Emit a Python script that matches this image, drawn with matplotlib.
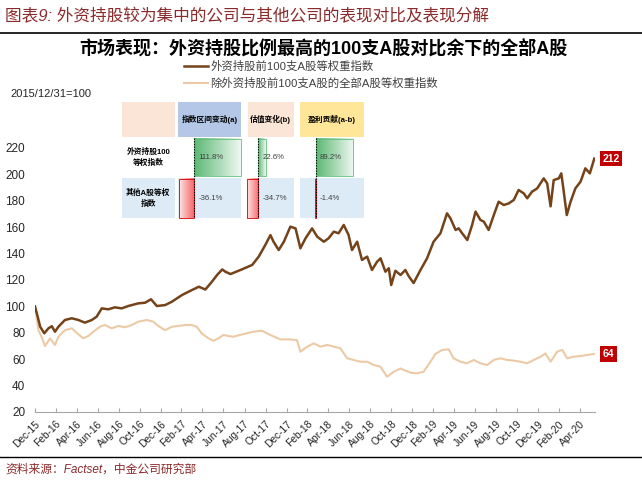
import matplotlib
matplotlib.use("Agg")
import matplotlib.pyplot as plt
from matplotlib.patches import Rectangle
from matplotlib.colors import to_rgb
import numpy as np
import pandas as pd

plt.rcParams['font.family'] = ['Liberation Sans', 'Noto Sans CJK SC', 'DejaVu Sans']

# 外资持股前100支A股等权重指数 (2015/12/31=100)
top100_dates = [
    "2015-12-31", "2016-01-08", "2016-01-15", "2016-01-27", "2016-02-08", "2016-02-18",
    "2016-02-27", "2016-03-08", "2016-03-27", "2016-04-16", "2016-05-05", "2016-05-24",
    "2016-06-13", "2016-06-27", "2016-07-12", "2016-07-31", "2016-08-19", "2016-09-08",
    "2016-09-27", "2016-10-26", "2016-11-15", "2016-12-02", "2016-12-19", "2017-01-12",
    "2017-02-01", "2017-03-02", "2017-03-31", "2017-04-20", "2017-05-09", "2017-05-28",
    "2017-06-12", "2017-06-27", "2017-07-06", "2017-07-21", "2017-08-19", "2017-09-22",
    "2017-10-11", "2017-10-30", "2017-11-14", "2017-11-23", "2017-12-08", "2017-12-23",
    "2018-01-11", "2018-01-26", "2018-02-09", "2018-02-24", "2018-03-15", "2018-03-30",
    "2018-04-18", "2018-05-02", "2018-05-17", "2018-05-31", "2018-06-15", "2018-06-29",
    "2018-07-09", "2018-07-24", "2018-08-07", "2018-08-22", "2018-09-05", "2018-09-20",
    "2018-09-30", "2018-10-14", "2018-10-24", "2018-10-31", "2018-11-12", "2018-11-27",
    "2018-12-11", "2018-12-21", "2019-01-04", "2019-01-24", "2019-02-12", "2019-03-03",
    "2019-03-23", "2019-04-11", "2019-04-21", "2019-05-06", "2019-05-15", "2019-05-25",
    "2019-06-09", "2019-06-23", "2019-07-03", "2019-07-17", "2019-07-27", "2019-08-10",
    "2019-08-25", "2019-09-08", "2019-09-23", "2019-10-07", "2019-10-22", "2019-11-05",
    "2019-11-20", "2019-11-30", "2019-12-14", "2019-12-29", "2020-01-17", "2020-01-27",
    "2020-02-06", "2020-02-15", "2020-03-01", "2020-03-08", "2020-03-14", "2020-03-24",
    "2020-04-04", "2020-04-18", "2020-05-03", "2020-05-17", "2020-05-30", "2020-06-12",
]
top100_vals = [
    100, 92, 84.6, 79.6, 83.4, 85,
    80.8, 84.6, 89.7, 91, 89.7, 87.7,
    89.7, 92.2, 98.5, 97.8, 99.3, 98.5,
    100.3, 102.3, 102.8, 105.4, 100.3, 101,
    103.6, 108.6, 112.4, 114.9, 112.8, 118.7,
    123.8, 128, 126.3, 124.5, 127.6, 131.4,
    137.7, 146.5, 154, 149, 142.7, 149,
    160.4, 159.1, 144, 151.6, 159.1, 152.8,
    149, 151.6, 156.6, 155.4, 161.7, 154.1,
    142.7, 149, 135.2, 137.7, 127.6, 133.9,
    136.4, 126.3, 128.9, 116.2, 127, 123.8,
    127.6, 122.8, 117.7, 127.6, 136.4, 149,
    155.4, 170.5, 166.7, 157.9, 159.1, 155.4,
    150.3, 161.7, 171.8, 165.5, 164.2, 157.9,
    169.2, 179.3, 176.8, 178, 180.6, 188.2,
    185.6, 181.9, 186.9, 189.4, 197, 193.2,
    175.8, 195.7, 197, 200.8, 189.4, 169.2,
    179.3, 189.4, 194.5, 204.6, 200.8, 212,
]

# 除外资持股前100支A股的全部A股等权重指数
rest_dates = [
    "2015-12-31", "2016-01-10", "2016-01-19", "2016-01-29", "2016-02-13", "2016-02-27",
    "2016-03-08", "2016-03-27", "2016-04-16", "2016-04-30", "2016-05-19", "2016-06-03",
    "2016-06-17", "2016-07-07", "2016-07-21", "2016-08-10", "2016-08-29", "2016-09-18",
    "2016-10-07", "2016-10-26", "2016-11-20", "2016-12-09", "2016-12-23", "2017-01-12",
    "2017-02-01", "2017-02-20", "2017-03-11", "2017-03-30", "2017-04-14", "2017-04-28",
    "2017-05-18", "2017-06-01", "2017-06-16", "2017-06-30", "2017-07-29", "2017-08-27",
    "2017-09-25", "2017-10-20", "2017-11-14", "2017-12-13", "2018-01-11", "2018-01-30",
    "2018-02-09", "2018-03-01", "2018-03-20", "2018-04-08", "2018-04-28", "2018-05-17",
    "2018-06-05", "2018-06-25", "2018-07-14", "2018-08-02", "2018-08-22", "2018-09-10",
    "2018-09-30", "2018-10-19", "2018-11-07", "2018-11-27", "2018-12-07", "2018-12-26",
    "2019-01-14", "2019-02-02", "2019-02-22", "2019-03-08", "2019-03-28", "2019-04-16",
    "2019-04-30", "2019-05-20", "2019-06-08", "2019-06-28", "2019-07-17", "2019-08-06",
    "2019-08-25", "2019-09-13", "2019-10-03", "2019-10-22", "2019-11-10", "2019-11-30",
    "2019-12-19", "2020-01-08", "2020-01-22", "2020-02-06", "2020-02-25", "2020-03-11",
    "2020-03-25", "2020-04-13", "2020-05-03", "2020-05-22", "2020-06-12",
]
rest_vals = [
    100, 82, 77, 70, 75.8, 70.8,
    77, 82, 83.4, 80, 75.8, 77.6,
    80.8, 84.6, 85.9, 83.4, 85.2, 84.2,
    85.9, 88.4, 89.7, 88.4, 85.2, 82,
    84.6, 85.2, 85.9, 85.9, 84.6, 79.6,
    75.8, 74, 75.8, 78.3, 77, 79,
    80.8, 81.6, 78.3, 75, 75, 74.5,
    65.7, 69.5, 72, 69.5, 70.8, 69.5,
    68.3, 60.7, 59.4, 58.1, 58.1, 55.6,
    54.3, 46.7, 50.5, 53, 51.8, 49.8,
    49.3, 50.5, 58.1, 63.9, 67, 67.5,
    60.7, 58.1, 56.9, 59.4, 56.9, 55.6,
    59.4, 60.7, 59.4, 58.9, 58.1, 56.9,
    59.4, 61.9, 64.4, 58.1, 65.7, 67,
    60.7, 61.9, 62.4, 63.2, 64,
]

series_names = ["外资持股前100支A股等权重指数", "除外资持股前100支A股的全部A股等权重指数"]

# 表现分解表
table_cols = ["指数区间变动(a)", "估值变化(b)", "盈利贡献(a-b)"]
table_rows = ["外资持股100\n等权指数", "其他A股等权\n指数"]
top100_change = [111.8, 22.6, 89.2]
rest_change = [-36.1, -34.7, -1.4]

BROWN = '#74431A'
TAN = '#EBCAA5'
MAROON = '#8B2A2A'

fig = plt.figure(figsize=(6.42, 4.82), dpi=100)
ax = fig.add_axes([35/642, 1-412/482, 560/642, 264/482])

d1 = pd.to_datetime(top100_dates)
d2 = pd.to_datetime(rest_dates)
l1, = ax.plot(d1, top100_vals, color=BROWN, lw=1.8, zorder=3)
l2, = ax.plot(d2, rest_vals, color=TAN, lw=1.5, zorder=2)

ax.set_ylim(20, 220)
ax.set_yticks(range(20, 221, 20))
ax.set_xlim(pd.Timestamp('2015-12-31'), pd.Timestamp('2020-06-14'))
ticks = pd.date_range('2015-12-31', '2020-04-30', freq='2ME')
ax.set_xticks(ticks)
ax.set_xticklabels([t.strftime('%b-%y') for t in ticks], rotation=45, ha='right',
                   rotation_mode='anchor', fontsize=7.4, color='#262626')
for s in ['top', 'right', 'left']:
    ax.spines[s].set_visible(False)
ax.spines['bottom'].set_color('#A6A6A6')
ax.tick_params(axis='y', length=0, pad=7, labelsize=8.5, labelcolor='#262626')
ax.tick_params(axis='x', direction='in', length=3, color='#A6A6A6', pad=5)

# 末值标签
for d, v in [(d1, top100_vals), (d2, rest_vals)]:
    ax.annotate(f"{v[-1]:.0f}", xy=(d[-1], v[-1]), xytext=(6, 0), textcoords='offset points',
                ha='left', va='center', fontsize=7.5, fontweight='bold', color='white',
                bbox=dict(boxstyle='square,pad=0.25', fc='#C00000', ec='none'),
                annotation_clip=False)

leg = ax.legend([l1, l2], series_names, loc='upper left', bbox_to_anchor=(184/642, 1-61/482),
                bbox_transform=fig.transFigure, frameon=False, fontsize=8.2, handlelength=2.1,
                handletextpad=0.2, labelspacing=0.45, borderpad=0, borderaxespad=0)
for t in leg.get_texts():
    t.set_color('#404040')

# 像素坐标的覆盖层
ov = fig.add_axes([0, 0, 1, 1], zorder=5)
ov.set_autoscale_on(False)
ov.set_xlim(0, 642)
ov.set_ylim(482, 0)
ov.axis('off')

ov.text(5, 16, "图表9: 外资持股较为集中的公司与其他公司的表现对比及表现分解", fontsize=12,
        color=MAROON, style='italic', ha='left', va='center')
ov.plot([0, 642], [33, 33], color='black', lw=1.2)
ov.text(323, 48, "市场表现：外资持股比例最高的100支A股对比余下的全部A股", fontsize=13,
        fontweight='bold', ha='center', va='center', color='black')
ov.text(10, 94, "2015/12/31=100", fontsize=8, ha='left', va='center', color='#262626')
ov.plot([0, 642], [457, 457], color='black', lw=1.0)
ov.text(5, 470, "资料来源：Factset，中金公司研究部", fontsize=8.5, color=MAROON,
        style='italic', ha='left', va='center')

# 表格
cell_x = [(121.7, 175), (178, 241), (247.5, 294), (300, 364)]
head_y = (101.7, 136.7)
row_y = [(138, 176.5), (178, 218.3)]
head_colors = ['#FBE5D6', '#B4C7E7', '#FBE5D6', '#FFE699']
row_colors = ['white', '#DDEBF7']
zero_x = [194.3, 258.3, 316]
px_per_pct = [0.415, 0.33, 0.415]


def grad_bar(x0, x1, y0, y1, c_left, c_right, edge):
    a = np.linspace(0, 1, 64)
    cl, cr = np.array(to_rgb(c_left)), np.array(to_rgb(c_right))
    img = (cl[None, :] * (1 - a[:, None]) + cr[None, :] * a[:, None])[None, :, :]
    ov.imshow(img, extent=(x0, x1, y1, y0), aspect='auto', interpolation='bilinear', zorder=2)
    ov.add_patch(Rectangle((x0, y0), x1 - x0, y1 - y0, fill=False, ec=edge, lw=0.6, zorder=3))


for i, (x0, x1) in enumerate(cell_x):
    ov.add_patch(Rectangle((x0, head_y[0]), x1 - x0, head_y[1] - head_y[0], fc=head_colors[i],
                           ec='none', zorder=1))
    for r, (y0, y1) in enumerate(row_y):
        ov.add_patch(Rectangle((x0, y0), x1 - x0, y1 - y0, fc=row_colors[r], ec='none', zorder=1))

for i, name in enumerate(table_cols):
    x0, x1 = cell_x[i + 1]
    ov.text((x0 + x1) / 2, sum(head_y) / 2, name, fontsize=5.6, fontweight='bold',
            ha='center', va='center', zorder=4)
for r, name in enumerate(table_rows):
    x0, x1 = cell_x[0]
    ov.text((x0 + x1) / 2, sum(row_y[r]) / 2, name, fontsize=5.6, fontweight='bold',
            ha='center', va='center', linespacing=1.6, zorder=4)

for i in range(3):
    zx = zero_x[i]
    for r, v in enumerate([top100_change[i], rest_change[i]]):
        y0, y1 = row_y[r]
        y0 += 0.5
        y1 -= 0.5
        w = v * px_per_pct[i]
        if v >= 0:
            grad_bar(zx, zx + w, y0, y1, '#5CB874', '#EEF8F1', '#63BE7B')
        else:
            grad_bar(zx + w, zx, y0, y1, '#FDE4E4', '#F8696B', '#D00000')
        ov.text(zx + 4, (y0 + y1) / 2, f"{v:.1f}%", fontsize=5.6, color='#404040',
                ha='left', va='center', zorder=4)
    ov.plot([zx, zx], [row_y[0][0], row_y[1][1]], color='black', lw=0.8,
            ls=(0, (1.2, 1.2)), zorder=5)

ov.set_xlim(0, 642)
ov.set_ylim(482, 0)

fig.savefig('out.png', dpi=100, facecolor='white')
